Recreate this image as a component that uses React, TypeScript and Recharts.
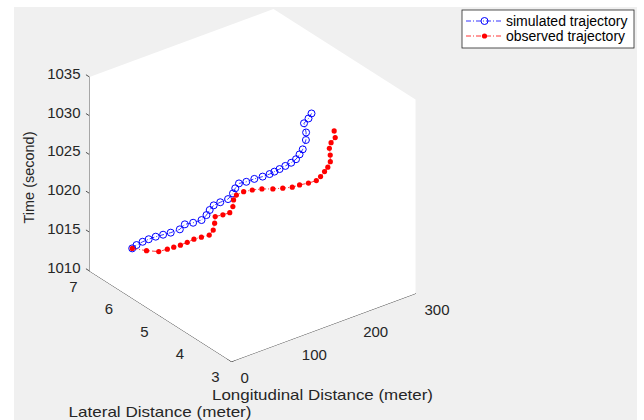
import React from 'react';
import { ScatterChart, Scatter, XAxis, YAxis, ReferenceLine } from 'recharts';

// =============================================================================
// Data
// =============================================================================

const longRange = [0, 300];
const latRange = [3, 7];
const timeRange = [1010, 1035];

const timeTicks = [1010, 1015, 1020, 1025, 1030, 1035];
const latTicks = [3, 4, 5, 6, 7];
const longTicks = [0, 100, 200, 300];

const seriesNames = ['simulated trajectory', 'observed trajectory'];

// simulated trajectory: longitudinal (m), lateral (m), time (s)
const simTime = [
  1013, 1013.5, 1014, 1014.5, 1015, 1015.5, 1016, 1016.5, 1017, 1017.5, 1018, 1018.5,
  1019, 1019.5, 1020, 1020.5, 1021, 1021.5, 1022, 1022.5, 1023, 1023.5, 1024, 1024.5,
  1025, 1025.5, 1026, 1026.5, 1027, 1027.5, 1028, 1028.5, 1029, 1029.5, 1030,
];
const simLong = [
  43.0, 46.6, 51.9, 56.0, 61.1, 65.6, 70.5, 79.0, 86.0, 90.8, 97.6, 104.5,
  109.7, 115.1, 120.6, 127.5, 135.5, 139.8, 145.3, 149.2, 155.9, 161.9, 166.9, 169.5,
  172.7, 177.5, 182.4, 186.8, 192.0, 197.2, 209.3, 215.4, 221.8, 228.0, 232.9,
];
const simLat = [
  6.54, 6.48, 6.4, 6.3, 6.19, 6.06, 5.93, 5.82, 5.8, 5.65, 5.53, 5.51,
  5.51, 5.49, 5.4, 5.3, 5.3, 5.31, 5.3, 5.16, 5.05, 4.92, 4.81, 4.72,
  4.63, 4.55, 4.47, 4.41, 4.4, 4.4, 4.52, 4.62, 4.79, 4.77, 4.77,
];

// observed trajectory
const obsTime = [
  1013, 1013.5, 1014, 1014.5, 1015, 1015.5, 1016, 1016.5, 1017, 1017.5, 1018, 1018.5,
  1019, 1019.5, 1020, 1020.5, 1021, 1021.5, 1022, 1022.5, 1023, 1023.5, 1024, 1024.5,
  1025, 1025.5, 1026, 1026.5, 1027, 1027.5, 1028, 1028.5, 1029, 1029.5, 1030, 1030.5,
];
const obsLong = [
  43.0, 47.8, 52.7, 59.2, 62.7, 66.6, 72.0, 77.7, 82.3, 87.6, 93.5, 99.8,
  104.8, 109.2, 113.5, 120.3, 125.5, 130.1, 136.7, 142.1, 147.4, 152.5, 157.7, 162.7,
  167.7, 173.5, 179.4, 184.0, 189.9, 194.1, 199.3, 203.8, 207.6, 212.1, 218.3, 221.8,
];
const obsLat = [
  6.54, 6.22, 5.96, 5.83, 5.71, 5.59, 5.49, 5.4, 5.27, 5.14, 5.13, 5.2,
  5.27, 5.13, 5.01, 5.04, 5.11, 5.11, 5.02, 4.87, 4.69, 4.47, 4.28, 4.1,
  3.98, 3.83, 3.71, 3.67, 3.66, 3.64, 3.66, 3.74, 3.83, 3.86, 3.85, 3.94,
];

// =============================================================================
// Layout / projection of the 3D box onto the page
// =============================================================================

const W = 644;
const H = 420;
const FONT = '"Liberation Sans", Arial, sans-serif';
const AXIS_COLOR = '#262626';
const ORIGIN = { x: 231.5, y: 361.5 };
const LONG_VEC = { x: 184, y: -68 };
const LAT_VEC = { x: -142, y: -90.5 };
const TIME_VEC = { x: 0, y: -194 };

function project(lon: number, lat: number, t: number) {
  const a = (lon - longRange[0]) / (longRange[1] - longRange[0]);
  const b = (lat - latRange[0]) / (latRange[1] - latRange[0]);
  const c = (t - timeRange[0]) / (timeRange[1] - timeRange[0]);
  return {
    x: ORIGIN.x + a * LONG_VEC.x + b * LAT_VEC.x + c * TIME_VEC.x,
    y: ORIGIN.y + a * LONG_VEC.y + b * LAT_VEC.y + c * TIME_VEC.y,
  };
}

const [L0, L1] = longRange;
const [A0, A1] = latRange;
const [T0, T1] = timeRange;

const simData = simTime.map((t, i) => project(simLong[i], simLat[i], t));
const obsData = obsTime.map((t, i) => project(obsLong[i], obsLat[i], t));

const boxFace = [
  project(L0, A1, T1),
  project(L1, A1, T1),
  project(L1, A0, T1),
  project(L1, A0, T0),
  project(L0, A0, T0),
  project(L0, A1, T0),
  project(L0, A1, T1),
];

const backCorner = project(L1, A1, T0);
const backEdges = [
  [project(L1, A1, T1), backCorner],
  [backCorner, project(L0, A1, T0)],
  [backCorner, project(L1, A0, T0)],
];
const axisLines = [
  [project(L0, A1, T0), project(L0, A1, T1)],
  [project(L0, A1, T0), project(L0, A0, T0)],
  [project(L0, A0, T0), project(L1, A0, T0)],
];

const tickMarks = [
  ...timeTicks.map((t) => [project(L0, A1, t), project(L0, A1 + 0.1, t)]),
  ...latTicks.map((v) => [project(L0, v, T0), project(L0 + 6, v, T0)]),
  ...longTicks.map((v) => [project(v, A0, T0), project(v, A0 + 0.12, T0)]),
];

const timeTickData = timeTicks.map((t) => ({ ...project(L0, A1, t), label: String(t) }));
const latTickData = latTicks.map((v) => ({ ...project(L0, v, T0), label: String(v) }));
const longTickData = longTicks.map((v) => ({ ...project(v, A0, T0), label: String(v) }));

// =============================================================================
// Shapes
// =============================================================================

const NoMarker = () => <g />;

const tickText = (dx: number, dy: number, anchor: 'start' | 'middle' | 'end') =>
  (props: any) => (
    <text
      x={props.cx + dx}
      y={props.cy + dy}
      textAnchor={anchor}
      fontSize={15}
      fontFamily={FONT}
      fill={AXIS_COLOR}
    >
      {props.payload.label}
    </text>
  );

const OpenCircle = (props: any) => (
  <circle cx={props.cx} cy={props.cy} r={3.5} fill="none" stroke="#0000ff" strokeWidth={1} />
);
const RedDot = (props: any) => <circle cx={props.cx} cy={props.cy} r={2.6} fill="#ff0000" />;

const DASH_DOT = '5 2 1 2';

// =============================================================================
// Component
// =============================================================================

export default function App() {
  return (
    <div style={{ position: 'absolute', left: 0, top: 0, width: W, height: H, background: '#ffffff' }}>
      <div style={{ position: 'absolute', left: 14, top: 7, width: 623, height: 413, background: '#f0f0f0' }} />
      <div style={{ position: 'absolute', left: 0, top: 0 }}>
        <ScatterChart width={W} height={H} margin={{ top: 0, right: 0, bottom: 0, left: 0 }}>
          <XAxis type="number" dataKey="x" domain={[0, W]} hide />
          <YAxis type="number" dataKey="y" domain={[0, H]} reversed hide />

          <Scatter
            data={boxFace}
            shape={NoMarker}
            line={{ fill: '#ffffff', stroke: 'none' }}
            isAnimationActive={false}
          />
          {backEdges.map((seg, i) => (
            <ReferenceLine key={`b${i}`} segment={seg} stroke="#ebebeb" strokeWidth={0.6} />
          ))}
          {axisLines.map((seg, i) => (
            <ReferenceLine key={`a${i}`} segment={seg} stroke={AXIS_COLOR} strokeWidth={0.8} />
          ))}
          {tickMarks.map((seg, i) => (
            <ReferenceLine key={`t${i}`} segment={seg} stroke={AXIS_COLOR} strokeWidth={0.8} />
          ))}

          <Scatter data={timeTickData} shape={tickText(-9, 1.7, 'end')} isAnimationActive={false} />
          <Scatter data={latTickData} shape={tickText(-16, 20.5, 'middle')} isAnimationActive={false} />
          <Scatter data={longTickData} shape={tickText(9, 21.3, 'start')} isAnimationActive={false} />

          <Scatter
            name={seriesNames[0]}
            data={simData}
            shape={OpenCircle}
            line={{ stroke: '#0000ff', strokeWidth: 0.8, strokeDasharray: DASH_DOT }}
            isAnimationActive={false}
          />
          <Scatter
            name={seriesNames[1]}
            data={obsData}
            shape={RedDot}
            line={{ stroke: '#ff0000', strokeWidth: 0.8, strokeDasharray: DASH_DOT }}
            isAnimationActive={false}
          />
        </ScatterChart>
      </div>

      {/* axis titles and legend */}
      <svg
        width={W}
        height={H}
        style={{ position: 'absolute', left: 0, top: 0, pointerEvents: 'none' }}
        fontFamily={FONT}
      >
        <text transform="translate(33.5,177.5) rotate(-90)" textAnchor="middle" fontSize={15} fill={AXIS_COLOR} textLength={92} lengthAdjust="spacingAndGlyphs">
          Time (second)
        </text>
        <text x={212} y={399.5} fontSize={15} fill={AXIS_COLOR} textLength={221} lengthAdjust="spacingAndGlyphs">
          Longitudinal Distance (meter)
        </text>
        <text x={68.5} y={416.5} fontSize={15} fill={AXIS_COLOR} textLength={183} lengthAdjust="spacingAndGlyphs">
          Lateral Distance (meter)
        </text>

        <rect x={462} y={10} width={172} height={38} fill="#ffffff" stroke={AXIS_COLOR} strokeWidth={0.8} />
        <line x1={466} y1={21} x2={503} y2={21} stroke="#0000ff" strokeWidth={0.8} strokeDasharray={DASH_DOT} />
        <circle cx={484.5} cy={21} r={3.5} fill="none" stroke="#0000ff" />
        <text x={506} y={26} fontSize={14} fill="#000000">{seriesNames[0]}</text>
        <line x1={466} y1={36} x2={503} y2={36} stroke="#ff0000" strokeWidth={0.8} strokeDasharray={DASH_DOT} />
        <circle cx={484.5} cy={36} r={2.6} fill="#ff0000" />
        <text x={506} y={41} fontSize={14} fill="#000000">{seriesNames[1]}</text>
      </svg>
    </div>
  );
}
